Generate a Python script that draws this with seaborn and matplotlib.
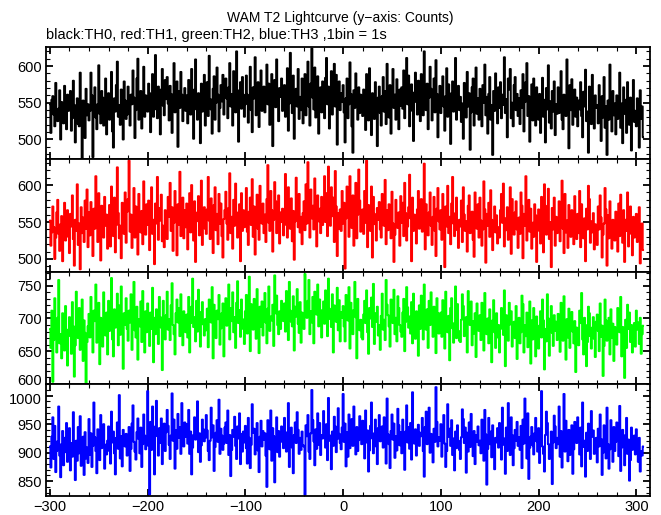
import numpy as np
import matplotlib
matplotlib.use("Agg")
import matplotlib.pyplot as plt
import matplotlib.transforms as mtransforms
from matplotlib.ticker import MultipleLocator
import seaborn as sns

# WAM T2 lightcurve, counts per 1 s bin, t = -300 .. 307 s
th0_counts = [
    548, 509, 554, 559, 534, 518, 577, 537, 525, 542, 567, 500, 551, 531, 522, 573, 545, 514, 561, 539,
    541, 566, 512, 529, 580, 547, 496, 538, 556, 521, 518, 591, 527, 474, 553, 540, 502, 569, 533, 548,
    526, 539, 591, 560, 476, 552, 571, 530, 514, 548, 601, 535, 522, 566, 557, 519, 544, 583, 507, 538,
    563, 527, 549, 592, 511, 489, 556, 538, 574, 606, 531, 547, 520, 568, 541, 500, 579, 553, 528, 534,
    572, 536, 519, 561, 548, 594, 557, 502, 540, 583, 610, 527, 545, 566, 515, 553, 599, 531, 560, 542,
    538, 576, 563, 510, 547, 589, 531, 559, 615, 541, 529, 572, 552, 507, 568, 596, 546, 533, 581, 555,
    585, 549, 526, 573, 562, 509, 557, 604, 537, 548, 579, 490, 566, 543, 592, 561, 525, 554, 570, 539,
    560, 522, 581, 547, 534, 596, 553, 501, 568, 609, 541, 527, 563, 550, 495, 576, 538, 557, 588, 519,
    547, 578, 532, 614, 555, 541, 508, 569, 586, 527, 550, 598, 561, 511, 543, 574, 552, 588, 534, 566,
    583, 556, 529, 571, 604, 545, 562, 519, 593, 550, 537, 620, 567, 497, 555, 578, 542, 585, 561, 531,
    548, 587, 561, 523, 552, 599, 540, 510, 571, 556, 612, 533, 546, 578, 517, 565, 594, 539, 553, 572,
    537, 569, 602, 548, 576, 520, 561, 589, 491, 553, 581, 544, 609, 566, 525, 570, 558, 583, 539, 547,
    574, 531, 556, 597, 512, 549, 618, 563, 536, 587, 501, 552, 569, 545, 596, 528, 558, 540, 583, 522,
    551, 589, 533, 567, 606, 545, 519, 576, 624, 557, 541, 598, 530, 564, 586, 508, 553, 571, 537, 579,
    566, 529, 584, 611, 548, 572, 515, 560, 593, 534, 569, 603, 545, 588, 493, 557, 579, 540, 563, 551,
    574, 537, 496, 556, 583, 529, 548, 605, 562, 518, 482, 567, 543, 590, 553, 527, 571, 536, 561, 545,
    532, 568, 549, 513, 589, 554, 526, 597, 540, 506, 563, 551, 528, 578, 545, 491, 557, 572, 536, 519,
    559, 585, 538, 566, 521, 603, 552, 530, 574, 508, 549, 596, 543, 561, 527, 582, 555, 514, 568, 546,
    571, 542, 594, 529, 560, 611, 548, 587, 518, 556, 575, 539, 498, 564, 591, 551, 534, 580, 546, 525,
    589, 548, 533, 620, 561, 540, 576, 514, 557, 599, 569, 526, 551, 583, 537, 608, 562, 503, 546, 573,
    536, 566, 586, 545, 512, 559, 597, 531, 575, 548, 494, 563, 579, 538, 556, 611, 527, 551, 573, 540,
    558, 524, 549, 501, 577, 566, 530, 592, 545, 563, 486, 537, 571, 583, 519, 547, 598, 535, 556, 527,
    569, 541, 518, 574, 550, 602, 533, 558, 508, 562, 585, 527, 547, 479, 566, 539, 590, 553, 522, 571,
    543, 578, 529, 561, 547, 612, 536, 555, 503, 583, 568, 596, 529, 550, 518, 574, 585, 540, 562, 532,
    556, 521, 567, 543, 589, 511, 551, 578, 604, 532, 559, 497, 545, 575, 526, 583, 549, 519, 571, 538,
    527, 562, 509, 546, 584, 531, 554, 496, 570, 541, 601, 523, 552, 515, 566, 538, 579, 506, 548, 535,
    571, 536, 550, 593, 527, 514, 561, 545, 532, 609, 556, 488, 574, 540, 582, 520, 549, 568, 531, 557,
    518, 553, 541, 578, 532, 503, 565, 545, 595, 525, 538, 482, 572, 549, 521, 588, 536, 515, 560, 543,
    547, 522, 574, 538, 498, 559, 530, 585, 516, 545, 479, 553, 527, 602, 541, 511, 566, 533, 549, 507,
    560, 528, 541, 591, 516, 549, 495, 571, 535, 554, 509, 578, 536, 520, 557, 485, 546, 581, 524, 539,
    518, 556, 532, 489, 567, 528, 545, 503,
]

th1_counts = [
    552, 518, 536, 571, 543, 500, 529, 563, 580, 534, 511, 547, 558, 497, 539, 576, 525, 549, 566, 530,
    508, 561, 544, 586, 527, 491, 553, 538, 601, 519, 548, 486, 570, 535, 556, 523, 579, 541, 594, 516,
    563, 532, 577, 549, 504, 568, 541, 612, 557, 523, 589, 536, 498, 572, 551, 529, 584, 545, 560, 514,
    538, 573, 517, 598, 556, 531, 583, 509, 546, 624, 562, 528, 545, 501, 576, 553, 534, 590, 522, 564,
    581, 633, 537, 560, 515, 547, 596, 529, 571, 552, 506, 588, 543, 536, 565, 520, 605, 557, 533, 574,
    546, 579, 512, 562, 597, 534, 553, 493, 575, 548, 611, 526, 569, 552, 587, 524, 545, 516, 566, 540,
    527, 584, 557, 603, 538, 570, 511, 549, 592, 562, 505, 574, 546, 618, 531, 555, 583, 528, 566, 543,
    575, 513, 547, 589, 536, 600, 559, 525, 578, 496, 551, 563, 585, 532, 557, 606, 519, 548, 570, 541,
    534, 567, 611, 552, 527, 582, 545, 508, 573, 597, 539, 561, 520, 588, 548, 575, 531, 502, 554, 566,
    591, 548, 526, 569, 616, 535, 557, 514, 580, 545, 602, 563, 529, 551, 574, 497, 589, 538, 566, 543,
    552, 596, 537, 519, 564, 583, 546, 608, 530, 571, 506, 555, 587, 541, 526, 599, 562, 548, 575, 535,
    560, 523, 581, 627, 549, 538, 592, 566, 510, 553, 604, 578, 535, 544, 586, 521, 563, 550, 568, 532,
    546, 615, 558, 529, 597, 574, 541, 582, 524, 565, 499, 551, 610, 569, 543, 588, 536, 557, 520, 562,
    578, 539, 601, 548, 631, 566, 529, 594, 555, 572, 540, 609, 563, 517, 586, 551, 568, 535, 584, 546,
    573, 612, 550, 589, 531, 625, 566, 545, 597, 558, 583, 523, 619, 571, 504, 562, 541, 567, 538, 592,
    548, 576, 487, 555, 598, 563, 530, 612, 569, 542, 586, 518, 551, 603, 528, 560, 621, 579, 537, 546,
    567, 534, 592, 549, 633, 516, 573, 555, 538, 598, 502, 584, 561, 547, 525, 569, 553, 577, 540, 529,
    588, 561, 545, 607, 520, 566, 539, 574, 553, 528, 591, 548, 496, 533, 580, 557, 542, 563, 518, 585,
    549, 576, 531, 603, 562, 525, 544, 570, 614, 555, 497, 583, 538, 560, 546, 521, 567, 592, 541, 553,
    581, 537, 556, 629, 513, 574, 549, 532, 563, 590, 545, 519, 557, 584, 538, 504, 568, 596, 551, 540,
    566, 526, 588, 552, 489, 571, 544, 599, 535, 557, 520, 575, 611, 548, 531, 562, 583, 539, 515, 553,
    544, 579, 523, 597, 560, 538, 551, 510, 572, 586, 535, 547, 564, 526, 503, 590, 557, 541, 574, 529,
    583, 552, 518, 540, 605, 567, 495, 561, 545, 576, 530, 593, 553, 512, 548, 571, 536, 559, 521, 543,
    529, 566, 588, 549, 602, 517, 555, 539, 570, 526, 544, 597, 507, 581, 552, 533, 563, 578, 540, 515,
    556, 534, 590, 572, 501, 561, 545, 612, 525, 553, 580, 537, 568, 514, 549, 530, 574, 559, 496, 542,
    567, 538, 521, 584, 546, 509, 601, 572, 533, 556, 595, 527, 550, 489, 569, 540, 583, 518, 557, 535,
    547, 578, 524, 563, 606, 541, 508, 588, 536, 552, 515, 573, 545, 530, 566, 549, 520, 585, 539, 527,
    561, 535, 592, 516, 574, 543, 528, 555, 497, 568, 540, 599, 581, 522, 551, 536, 562, 513, 547, 530,
    519, 571, 540, 586, 556, 502, 533, 548, 596, 567, 491, 559, 528, 578, 545, 514, 553, 537, 525, 564,
    542, 510, 575, 531, 587, 549, 522, 566, 496, 553, 538, 590, 517, 534, 571, 548, 505, 557, 529, 540,
    561, 523, 538, 570, 494, 531, 548, 512,
]

th2_counts = [
    684, 655, 712, 603, 667, 731, 690, 648, 701, 759, 662, 676, 639, 708, 695, 651, 719, 672, 628, 683,
    702, 673, 646, 725, 688, 611, 659, 741, 694, 670, 716, 652, 682, 729, 635, 697, 678, 601, 664, 688,
    707, 671, 733, 685, 648, 712, 696, 752, 663, 679, 724, 630, 701, 688, 657, 740, 693, 674, 709, 645,
    727, 681, 699, 762, 668, 642, 714, 686, 703, 738, 659, 720, 675, 749, 697, 623, 708, 690, 731, 684,
    666, 712, 694, 737, 652, 705, 756, 682, 671, 718, 637, 699, 688, 726, 664, 742, 695, 648, 711, 679,
    723, 697, 658, 709, 684, 747, 633, 701, 676, 714, 690, 661, 733, 702, 686, 621, 727, 695, 668, 705,
    741, 683, 699, 667, 720, 754, 690, 676, 645, 708, 729, 694, 716, 673, 737, 700, 659, 711, 688, 679,
    706, 671, 733, 648, 693, 718, 761, 687, 702, 665, 727, 680, 744, 694, 657, 710, 725, 691, 674, 699,
    682, 715, 656, 729, 704, 694, 748, 639, 721, 687, 670, 712, 699, 736, 660, 685, 708, 723, 642, 697,
    731, 689, 707, 752, 668, 716, 696, 740, 679, 702, 655, 724, 757, 693, 713, 672, 729, 699, 684, 661,
    711, 736, 677, 692, 764, 650, 722, 700, 683, 730, 709, 669, 745, 695, 647, 718, 687, 726, 674, 703,
    739, 694, 662, 715, 749, 681, 703, 697, 721, 658, 766, 708, 735, 690, 676, 711, 684, 727, 701, 696,
    723, 680, 742, 705, 667, 756, 712, 695, 688, 734, 651, 718, 703, 745, 692, 678, 725, 663, 709, 697,
    684, 768, 716, 701, 727, 759, 676, 711, 694, 733, 662, 741, 720, 706, 752, 688, 729, 699, 671, 713,
    726, 692, 743, 704, 673, 761, 715, 699, 687, 737, 648, 720, 708, 695, 747, 682, 728, 665, 710, 701,
    719, 688, 665, 736, 709, 697, 748, 654, 724, 691, 676, 713, 756, 702, 639, 730, 694, 682, 698, 671,
    668, 706, 727, 693, 743, 679, 646, 716, 700, 732, 687, 753, 661, 708, 695, 718, 674, 690, 652, 704,
    738, 683, 698, 667, 759, 721, 705, 688, 657, 729, 712, 693, 744, 676, 701, 665, 734, 716, 690, 680,
    672, 709, 730, 650, 695, 748, 717, 686, 703, 677, 725, 662, 738, 691, 669, 711, 694, 643, 720, 684,
    735, 697, 668, 752, 706, 683, 714, 655, 727, 690, 740, 701, 672, 718, 686, 647, 731, 708, 677, 695,
    709, 672, 728, 688, 654, 741, 697, 679, 704, 636, 716, 731, 685, 663, 693, 749, 670, 722, 681, 666,
    664, 698, 737, 719, 673, 686, 702, 648, 742, 711, 690, 726, 659, 696, 677, 708, 641, 723, 689, 681,
    705, 667, 724, 683, 651, 739, 692, 676, 700, 662, 714, 686, 633, 697, 728, 679, 655, 708, 671, 690,
    648, 684, 716, 697, 675, 743, 627, 705, 681, 666, 724, 691, 711, 657, 687, 695, 670, 719, 638, 679,
    701, 662, 679, 735, 722, 648, 690, 673, 709, 656, 684, 726, 631, 697, 668, 716, 685, 642, 703, 677,
    654, 689, 711, 671, 729, 697, 622, 684, 665, 737, 700, 643, 692, 719, 678, 658, 705, 681, 695, 667,
    707, 676, 649, 724, 688, 666, 734, 683, 637, 699, 671, 715, 655, 690, 710, 680, 662, 696, 618, 686,
    682, 659, 712, 693, 739, 668, 645, 701, 690, 627, 664, 718, 708, 673, 654, 686, 702, 669, 641, 695,
    706, 681, 650, 723, 672, 689, 612, 658, 729, 697, 666, 684, 701, 645, 714, 670, 692, 635, 687, 663,
    660, 716, 696, 679, 733, 642, 687, 671, 609, 698, 655, 721, 684, 709, 664, 690, 648, 675, 693, 657,
    712, 683, 694, 661, 701, 646, 676, 689,
]

th3_counts = [
    911, 874, 928, 962, 889, 947, 866, 903, 920, 981, 895, 857, 915, 938, 878, 926, 901, 952, 884, 897,
    943, 869, 917, 893, 971, 906, 852, 921, 886, 945, 899, 964, 877, 912, 928, 861, 936, 890, 909, 882,
    959, 896, 934, 875, 912, 988, 927, 903, 864, 941, 919, 887, 966, 908, 925, 950, 872, 914, 897, 921,
    946, 903, 881, 972, 918, 937, 899, 862, 926, 953, 907, 1001, 890, 929, 876, 940, 918, 911, 933, 895,
    928, 945, 868, 907, 951, 983, 919, 902, 888, 936, 960, 924, 899, 944, 875, 915, 967, 930, 906, 921,
    1008, 912, 827, 954, 905, 981, 939, 862, 946, 991, 929, 895, 943, 917, 960, 880, 924, 951, 903, 936,
    975, 947, 914, 889, 930, 1004, 921, 958, 872, 939, 907, 968, 926, 945, 898, 987, 933, 911, 953, 928,
    950, 916, 975, 898, 937, 862, 909, 931, 962, 923, 944, 990, 901, 934, 884, 913, 958, 941, 920, 926,
    966, 939, 903, 887, 921, 979, 927, 948, 868, 910, 935, 957, 919, 993, 898, 942, 930, 905, 916, 944,
    953, 917, 974, 896, 931, 859, 905, 940, 928, 963, 912, 889, 946, 925, 969, 880, 933, 902, 937, 918,
    947, 908, 881, 961, 926, 873, 914, 985, 935, 942, 897, 919, 952, 904, 866, 928, 956, 911, 938, 923,
    934, 895, 840, 957, 921, 906, 974, 886, 943, 929, 848, 915, 962, 901, 938, 893, 919, 946, 927, 908,
    961, 936, 902, 918, 987, 875, 925, 944, 909, 864, 931, 953, 917, 971, 940, 898, 926, 905, 937, 913,
    911, 826, 948, 929, 966, 902, 889, 934, 1010, 957, 920, 878, 941, 907, 969, 914, 952, 896, 931, 925,
    973, 942, 909, 950, 887, 996, 921, 930, 871, 937, 912, 963, 946, 901, 924, 978, 933, 917, 906, 944,
    1003, 919, 951, 876, 936, 893, 967, 908, 940, 959, 912, 981, 928, 897, 945, 903, 922, 964, 938, 915,
    956, 931, 890, 974, 918, 939, 867, 904, 947, 988, 925, 899, 934, 958, 911, 880, 943, 966, 920, 927,
    946, 909, 962, 925, 881, 995, 932, 915, 873, 938, 967, 923, 951, 891, 929, 904, 977, 948, 913, 936,
    899, 958, 924, 870, 937, 983, 918, 945, 907, 952, 888, 1006, 930, 916, 941, 895, 926, 949, 912, 935,
    929, 961, 903, 858, 945, 972, 915, 938, 979, 900, 933, 906, 883, 942, 919, 1015, 954, 911, 927, 921,
    950, 893, 934, 966, 916, 875, 903, 985, 928, 942, 912, 957, 896, 925, 869, 937, 908, 948, 921, 905,
    889, 927, 976, 959, 917, 944, 865, 935, 902, 953, 910, 968, 926, 894, 938, 880, 931, 919, 946, 913,
    921, 899, 958, 940, 886, 975, 932, 844, 907, 961, 915, 937, 892, 948, 903, 871, 926, 918, 943, 909,
    952, 936, 888, 979, 914, 925, 863, 944, 903, 987, 917, 896, 962, 931, 878, 908, 940, 921, 954, 912,
    927, 905, 947, 873, 958, 916, 995, 938, 890, 969, 854, 909, 928, 945, 913, 897, 934, 961, 920, 902,
    943, 882, 924, 1008, 911, 898, 867, 931, 972, 952, 915, 889, 904, 937, 845, 918, 965, 946, 908, 926,
    915, 981, 893, 938, 874, 927, 1003, 902, 956, 912, 885, 940, 896, 919, 948, 863, 906, 954, 931, 917,
    962, 929, 897, 944, 876, 988, 910, 921, 858, 935, 903, 951, 914, 889, 973, 928, 939, 898, 907, 926,
    883, 942, 911, 967, 924, 861, 900, 948, 935, 890, 979, 915, 872, 906, 957, 928, 884, 945, 903, 919,
    953, 936, 894, 982, 868, 909, 940, 915, 878, 931, 961, 898, 923, 851, 887, 944, 905, 912, 930, 897,
    941, 918, 884, 926, 867, 903, 895, 911,
]

series = [th0_counts, th1_counts, th2_counts, th3_counts]
colors = ["#000000", "#ff0000", "#00ff00", "#0000ff"]
y_limits = [(473, 626), (483, 635), (600, 772), (824, 1021)]
t_start = -300
x_limits = (-304, 314)

sns.set_style("ticks")
plt.rcParams["font.family"] = ["Liberation Sans", "DejaVu Sans"]
plt.rcParams.update({
    "text.color": "black", "axes.labelcolor": "black",
    "xtick.color": "black", "ytick.color": "black",
    "axes.edgecolor": "black", "font.size": 10,
})

fig, axes = plt.subplots(4, 1, figsize=(6.61, 5.15), dpi=100, sharex=True)
fig.subplots_adjust(left=0.0696, right=0.9834, top=0.9087, bottom=0.0369, hspace=0)

for ax, counts, col, ylim in zip(axes, series, colors, y_limits):
    t = np.arange(t_start, t_start + len(counts))
    sns.lineplot(x=t, y=counts, ax=ax, color=col, linewidth=1.45,
                 drawstyle="steps-mid", estimator=None)
    ax.set_ylim(*ylim)
    ax.set_xlim(*x_limits)
    ax.set_xlabel("")
    ax.set_ylabel("")
    ax.xaxis.set_major_locator(MultipleLocator(100))
    ax.xaxis.set_minor_locator(MultipleLocator(20))
    ax.yaxis.set_major_locator(MultipleLocator(50))
    ax.yaxis.set_minor_locator(MultipleLocator(10))
    ax.tick_params(which="both", direction="in", top=True, right=True,
                   labelsize=10.5, pad=3)
    ax.tick_params(which="major", length=5, width=1.3)
    ax.tick_params(which="minor", length=3, width=0.8)
    for sp in ax.spines.values():
        sp.set_linewidth(1.3)

# nudge the bottom "600" of the green panel up so it clears "1000" below
fig.canvas.draw()
shift = mtransforms.ScaledTranslation(0, 3 / 72, fig.dpi_scale_trans)
for lab in axes[2].get_yticklabels():
    if lab.get_text() == "600":
        lab.set_transform(lab.get_transform() + shift)
shift_dn = mtransforms.ScaledTranslation(0, -2 / 72, fig.dpi_scale_trans)
for lab in axes[3].get_yticklabels():
    if lab.get_text() == "1000":
        lab.set_transform(lab.get_transform() + shift_dn)

fig.text(0.514, 0.965, "WAM T2 Lightcurve (y\u2212axis: Counts)",
         ha="center", va="center", fontsize=10)
fig.text(0.0696, 0.932, "black:TH0, red:TH1, green:TH2, blue:TH3 ,1bin = 1s",
         ha="left", va="center", fontsize=10.5)

fig.savefig("out.png", dpi=100)
